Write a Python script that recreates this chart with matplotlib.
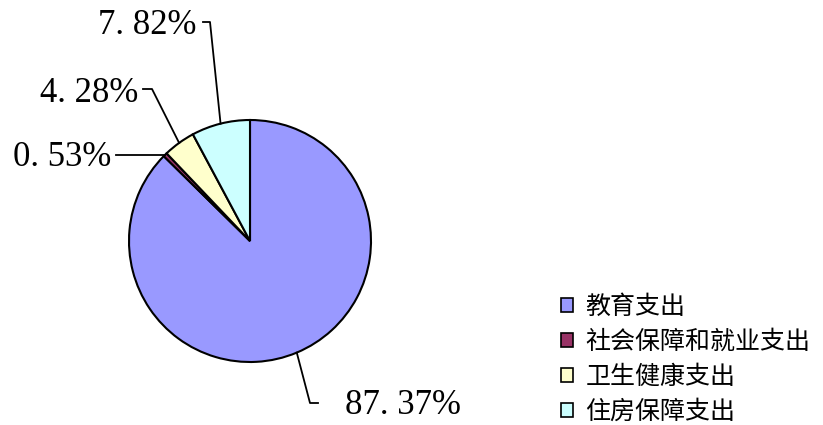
import matplotlib.pyplot as plt
from matplotlib.patches import Patch
import numpy as np

categories = ["教育支出", "社会保障和就业支出", "卫生健康支出", "住房保障支出"]
shares = [87.37, 0.53, 4.28, 7.82]
colors = ["#9999FF", "#993366", "#FFFFCC", "#CCFFFF"]

W, H = 823, 425
fig = plt.figure(figsize=(W / 100, H / 100), dpi=100)

# pie centre (250, 241) px, radius 121 px
cx, cy, r = 250, 241, 121
ax = fig.add_axes([(cx - r) / W, (H - cy - r) / H, 2 * r / W, 2 * r / H])
wedges, _ = ax.pie(shares, colors=colors, startangle=90, counterclock=False,
                   wedgeprops=dict(edgecolor="black", linewidth=1.5))
ax.set_xlim(-1, 1)
ax.set_ylim(-1, 1)
ax.set_aspect("equal")


def px(x, y):
    return (x - cx) / r, (cy - y) / r


# leader-line elbows / ends and label anchor (pixel positions); None = horizontal
layout = [
    ((310, 403), (318, 403), (345, 406), "left"),
    (None, (116, None), (111, 3), "right"),
    ((152, 89), (143, 89), (138, 93), "right"),
    ((210, 22), (203, 22), (197, 25), "right"),
]

for w, v, (elbow, end, tpos, ha) in zip(wedges, shares, layout):
    mid = np.deg2rad((w.theta1 + w.theta2) / 2)
    sx, sy = np.cos(mid), np.sin(mid)
    if elbow is None:
        fx, _ = px(end[0], 0)
        ex, ey, fy = fx, sy, sy
        tx = px(tpos[0], 0)[0]
        ty = sy - tpos[1] / r
    else:
        ex, ey = px(*elbow)
        fx, fy = px(*end)
        tx, ty = px(*tpos)
    ax.plot([sx, ex, fx], [sy, ey, fy], color="black", lw=1.3, clip_on=False)
    label = f"{v:.2f}%".replace(".", ". ")
    ax.text(tx, ty, label, ha=ha, va="center", fontsize=25,
            family="Liberation Serif", clip_on=False)

handles = [Patch(facecolor=c, edgecolor="black", linewidth=1.2) for c in colors]
fig.legend(handles, categories, loc="upper left",
           bbox_to_anchor=(561 / W, 1 - 294 / H), frameon=False,
           prop={"family": "Noto Sans CJK SC", "size": 18},
           handlelength=0.47, handleheight=0.47, handletextpad=0.5,
           labelspacing=0.36, borderpad=0, borderaxespad=0)

fig.savefig("out.png", dpi=100)
